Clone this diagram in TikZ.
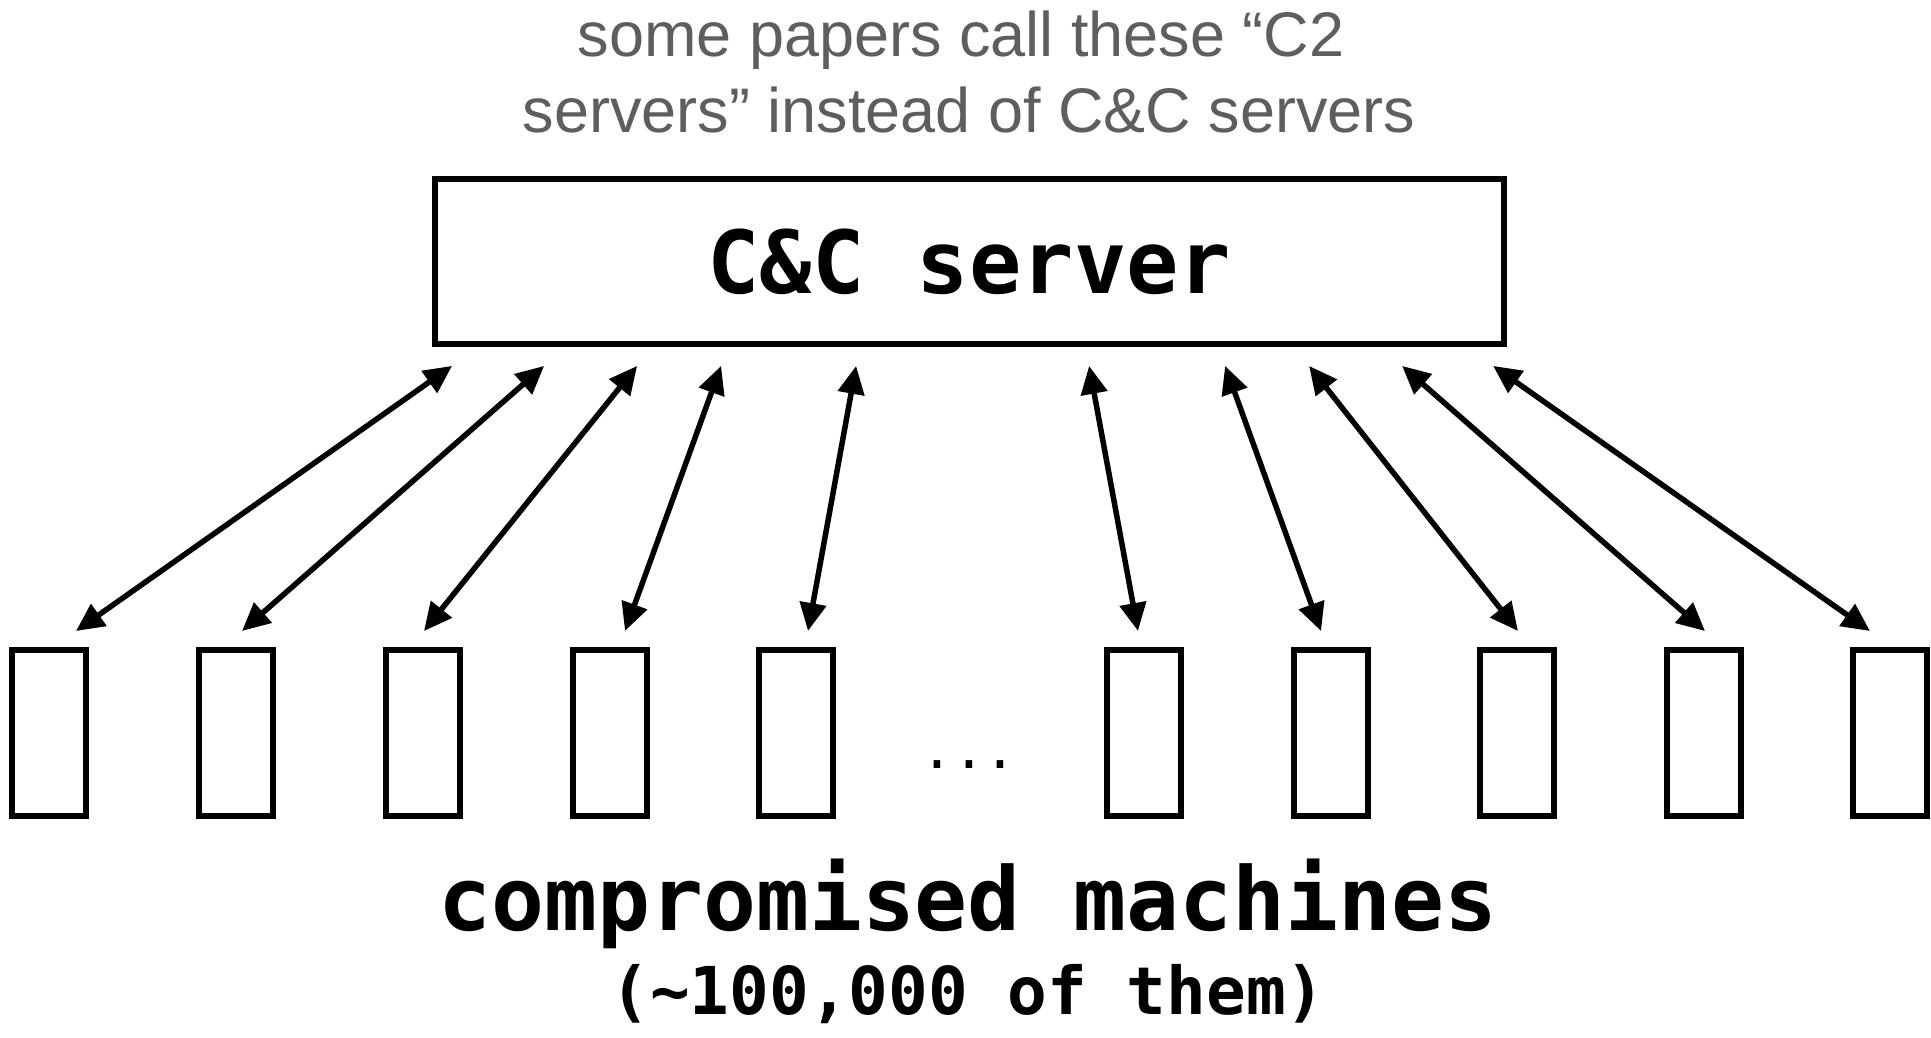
\documentclass[tikz,border=0pt]{standalone}
\usepackage{fontspec}
\setmainfont{Liberation Sans}
\newfontfamily\monofont[RawFeature=+zero]{DejaVu Sans Mono}
\usetikzlibrary{arrows.meta,calc}
\definecolor{notegray}{RGB}{94,94,94}
\begin{document}
\begin{tikzpicture}[x=1pt,y=-1pt,
  serverbox/.style={draw,line width=6pt,minimum width=1069pt,minimum height=165pt,
    inner sep=0pt,outer sep=0pt,font=\monofont\bfseries\fontsize{87}{90}\selectfont},
  machine/.style={draw,line width=6pt,minimum width=74pt,minimum height=166pt,
    inner sep=0pt,outer sep=0pt},
  link/.style={line width=5.5pt,{Triangle[length=28pt,width=26pt]}-{Triangle[length=28pt,width=26pt]}},
  notetext/.style={anchor=base,inner sep=0pt,text=notegray,font=\fontsize{63}{76}\selectfont},
  bigmono/.style={anchor=base,inner sep=0pt,font=\monofont\bfseries\fontsize{88}{96}\selectfont},
  smallmono/.style={anchor=base,inner sep=0pt,font=\monofont\bfseries\fontsize{66}{72}\selectfont},
  dotstext/.style={anchor=base,inner sep=0pt,font=\monofont\fontsize{53}{60}\selectfont}]
\useasboundingbox[fill=white] (0,0) rectangle (1931,1037);

\node[notetext] (note1) at (961,56) {some papers call these “C2};
\node[notetext] (note2) at (969,132) {servers” instead of C\&C servers};

\node[serverbox] (server) at (969.3,261.4) {C\&C server};

\foreach \i/\x in {1/49,2/236,3/423,4/609.5,5/796,6/1144,7/1330.5,8/1517,9/1703.5,10/1890}
  \node[machine] (m\i) at (\x,733) {};

\node[dotstext] (dots) at (969,768) {...};

\foreach \i/\u/\d in {1/17.3/27,2/109.3/6,3/202.3/1,4/286.3/15.5,5/421.3/12,6/654.3/-6,7/790.3/-9.5,8/874.3/1,9/967.3/1.5,10/1058.3/-20}
  \draw[link] ([shift={(\u,22)}]server.south west) -- ([shift={(\d,-19)}]m\i.north);

\node[bigmono] (label) at (968,930) {compromised machines};
\node[smallmono] (count) at (968,1014) {(\textasciitilde100,000 of them)};
\end{tikzpicture}
\end{document}
